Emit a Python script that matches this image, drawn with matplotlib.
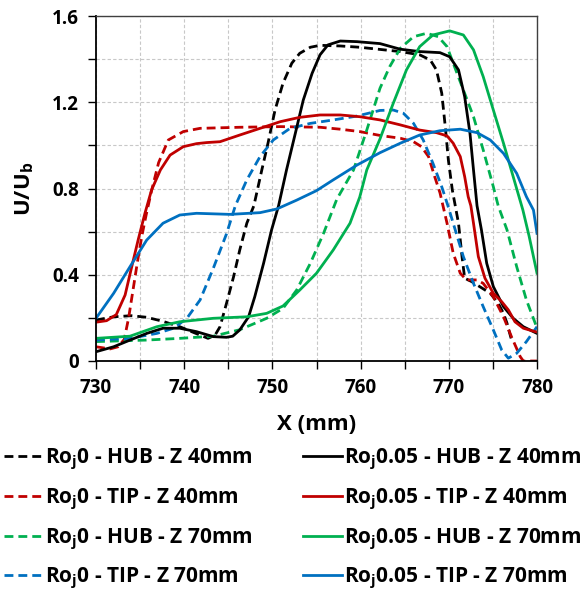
import matplotlib
matplotlib.use("Agg")
import matplotlib.pyplot as plt
from matplotlib.ticker import MultipleLocator

FAM = 'Open Sans'
plt.rcParams['font.family'] = [FAM, 'DejaVu Sans']
plt.rcParams['font.weight'] = 'bold'
plt.rcParams['mathtext.fontset'] = 'custom'
plt.rcParams['mathtext.rm'] = FAM + ':bold'
plt.rcParams['mathtext.bf'] = FAM + ':bold'
plt.rcParams['mathtext.it'] = FAM + ':bold'

# ---- data ----
x_hub40_r0 = [730, 732, 734, 735.7, 737.5, 739.5, 741.2, 742.7, 743.5, 744.06, 744.8, 745.6, 746.3,
              747.1, 747.9, 748.8, 749.5, 750.3, 751.2, 752.2, 753.1, 754.3, 755.4, 757.7, 759.9,
              762.2, 764.5, 766.7, 767.9, 768.6, 769.2, 769.6, 769.95, 770.4, 771.1, 771.5, 771.8,
              772.6, 773.5, 774.7, 775.6, 776.2, 776.6, 776.8, 777.1]
y_hub40_r0 = [0.19, 0.205, 0.21, 0.203, 0.185, 0.159, 0.13, 0.105, 0.12, 0.159, 0.268, 0.391, 0.515,
              0.639, 0.72, 0.886, 1.01, 1.164, 1.288, 1.381, 1.427, 1.455, 1.464, 1.461, 1.455,
              1.445, 1.435, 1.42, 1.396, 1.35, 1.242, 1.087, 0.932, 0.793, 0.639, 0.484, 0.384,
              0.368, 0.345, 0.314, 0.268, 0.221, 0.175, 0.144, 0.10]

x_hub40_r5 = [730, 732, 733.85, 735.75, 737.6, 739.5, 741.4, 743.3, 744.8, 745.5, 746.3, 747.3,
              748.0, 749.0, 749.9, 750.7, 751.6, 752.6, 753.5, 754.5, 755.4, 756.3, 757.7, 759.6,
              762.2, 764.5, 766.7, 769.0, 770.1, 771.1, 771.8, 772.4, 772.8, 773.2, 773.7, 774.3,
              775.05, 776.2, 777.3, 778.45, 780]
y_hub40_r5 = [0.043, 0.066, 0.097, 0.128, 0.152, 0.152, 0.136, 0.113, 0.11, 0.115, 0.144, 0.205,
              0.298, 0.453, 0.607, 0.72, 0.886, 1.056, 1.21, 1.334, 1.42, 1.466, 1.484, 1.481,
              1.472, 1.446, 1.435, 1.43, 1.411, 1.35, 1.226, 1.056, 0.886, 0.72, 0.608, 0.453,
              0.345, 0.252, 0.198, 0.159, 0.128]

x_tip40_r0 = [730, 731.6, 732.5, 733.2, 733.7, 734.2, 734.7, 735.2, 735.7, 736.3, 737.1, 738.2,
              739.9, 741.8, 746.3, 750.9, 755.4, 757.7, 759.9, 762.2, 764.5, 766.0, 766.9, 767.7,
              768.4, 769.0, 769.8, 770.5, 771.3, 772.0, 773.2, 773.9, 775.05, 776.2, 777.1, 778.1,
              778.45, 780]
y_tip40_r0 = [0.066, 0.056, 0.066, 0.1, 0.2, 0.33, 0.46, 0.58, 0.68, 0.79, 0.92, 1.025,
              1.064, 1.079, 1.084, 1.087, 1.084, 1.075, 1.064, 1.046, 1.033, 1.017, 0.994, 0.948,
              0.855, 0.78, 0.639, 0.5, 0.407, 0.376, 0.376, 0.36, 0.298, 0.205, 0.113, 0.02,
              0.0, 0.0]

x_tip40_r5 = [730, 731.2, 732.3, 733.3, 734.05, 734.8, 735.55, 736.3, 737.3, 738.4, 739.9, 741.4,
              742.55, 744.06, 746.3, 748.6, 750.9, 753.1, 755.4, 757.7, 759.9, 762.2, 764.5, 766.7,
              768.6, 769.8, 770.5, 771.3, 771.8, 772.2, 772.5, 772.8, 773.35, 774.1, 775.05, 776.0,
              776.75, 777.5, 778.45, 779.8, 780]
y_tip40_r5 = [0.18, 0.187, 0.215, 0.306, 0.437, 0.565, 0.685, 0.793, 0.886, 0.955, 0.994, 1.008,
              1.013, 1.017, 1.048, 1.079, 1.11, 1.13, 1.141, 1.141, 1.133, 1.118, 1.095, 1.071,
              1.059, 1.044, 1.01, 0.948, 0.855, 0.762, 0.72, 0.639, 0.484, 0.384, 0.314, 0.275,
              0.237, 0.182, 0.152, 0.136, 0.135]

x_hub70_r0 = [730, 735.7, 739.5, 743.3, 746.3, 749.35, 751.2, 752.75, 754.3, 755.8, 757.3, 759.2,
              760.7, 762.2, 763.3, 764.5, 766.0, 767.5, 768.8, 769.8, 770.5, 771.65, 772.8, 773.9,
              775.05, 775.6, 776.6, 777.7, 778.8, 779.8, 780]
y_hub70_r0 = [0.09, 0.097, 0.105, 0.115, 0.145, 0.198, 0.244, 0.329, 0.453, 0.592, 0.75, 0.886,
              1.071, 1.265, 1.365, 1.45, 1.504, 1.52, 1.504, 1.458, 1.381, 1.257, 1.133, 0.979,
              0.808, 0.72, 0.608, 0.437, 0.283, 0.175, 0.15]

x_hub70_r5 = [730, 733.85, 736.9, 739.5, 743.3, 747.1, 749.35, 751.2, 753.1, 755.0, 756.9, 758.8,
              759.9, 760.7, 762.2, 763.7, 765.2, 766.7, 768.2, 770.1, 771.65, 772.8, 773.9, 775.05,
              776.2, 777.3, 778.4, 779.1, 780]
y_hub70_r5 = [0.105, 0.115, 0.159, 0.182, 0.198, 0.205, 0.221, 0.255, 0.329, 0.407, 0.515, 0.639,
              0.76, 0.886, 1.03, 1.195, 1.35, 1.458, 1.512, 1.531, 1.512, 1.443, 1.319, 1.164,
              1.01, 0.855, 0.7, 0.58, 0.407]

x_tip70_r0 = [730, 733.85, 736.9, 738.8, 740.3, 741.8, 743.3, 744.8, 745.8, 747.1, 748.6, 750.1,
              752.0, 754.3, 756.9, 759.6, 762.2, 763.7, 764.85, 766.0, 767.1, 768.2, 769.2, 769.9,
              770.5, 771.65, 772.8, 773.9, 775.05, 776.0, 776.75, 777.7, 778.8, 780]
y_tip70_r0 = [0.097, 0.105, 0.128, 0.152, 0.198, 0.283, 0.43, 0.59, 0.72, 0.84, 0.948, 1.025,
              1.079, 1.102, 1.118, 1.136, 1.162, 1.164, 1.149, 1.102, 1.025, 0.917, 0.808, 0.72,
              0.639, 0.484, 0.36, 0.252, 0.144, 0.051, 0.013, 0.036, 0.09, 0.159]

x_tip70_r5 = [730, 732.0, 733.85, 735.75, 737.6, 739.5, 741.4, 745.2, 748.6, 750.5, 752.75, 755.0,
              756.9, 759.6, 762.2, 764.5, 766.7, 769.0, 771.3, 773.2, 774.7, 776.2, 777.7, 778.8,
              779.6, 780]
y_tip70_r5 = [0.198, 0.314, 0.437, 0.561, 0.639, 0.677, 0.685, 0.68, 0.688, 0.705, 0.746, 0.79,
              0.84, 0.909, 0.966, 1.01, 1.048, 1.068, 1.075, 1.059, 1.025, 0.963, 0.87, 0.762,
              0.70, 0.592]

labels = [r'Ro$_\mathbf{j}$0 - HUB - Z 40mm', r'Ro$_\mathbf{j}$0 - TIP - Z 40mm',
          r'Ro$_\mathbf{j}$0 - HUB - Z 70mm', r'Ro$_\mathbf{j}$0 - TIP - Z 70mm',
          r'Ro$_\mathbf{j}$0.05 - HUB - Z 40mm', r'Ro$_\mathbf{j}$0.05 - TIP - Z 40mm',
          r'Ro$_\mathbf{j}$0.05 - HUB - Z 70mm', r'Ro$_\mathbf{j}$0.05 - TIP - Z 70mm']

x_ticks = [730, 740, 750, 760, 770, 780]
y_ticks = [0, 0.4, 0.8, 1.2, 1.6]
y_tick_labels = ['0', '0.4', '0.8', '1.2', '1.6']

BLACK, RED, GREEN, BLUE = '#000000', '#C00000', '#00B050', '#0070C0'

fig = plt.figure(figsize=(5.85, 5.9), dpi=100)
ax = fig.add_axes([96/585, 1-361/590, 441/585, 345/590])

series = [
    (x_hub40_r0, y_hub40_r0, BLACK, '--'),
    (x_tip40_r0, y_tip40_r0, RED, '--'),
    (x_hub70_r0, y_hub70_r0, GREEN, '--'),
    (x_tip70_r0, y_tip70_r0, BLUE, '--'),
    (x_hub40_r5, y_hub40_r5, BLACK, '-'),
    (x_tip40_r5, y_tip40_r5, RED, '-'),
    (x_hub70_r5, y_hub70_r5, GREEN, '-'),
    (x_tip70_r5, y_tip70_r5, BLUE, '-'),
]
handles = []
for (xs, ys, c, ls), lab in zip(series, labels):
    kw = dict(color=c, lw=2.0, label=lab, solid_joinstyle='round')
    if ls == '--':
        kw['dashes'] = (3.2, 1.8)
    h, = ax.plot(xs, ys, **kw)
    handles.append(h)

ax.set_xlim(730, 780)
ax.set_ylim(0, 1.6)
ax.set_xticks(x_ticks)
ax.set_yticks(y_ticks)
ax.set_yticklabels(y_tick_labels)
ax.xaxis.set_minor_locator(MultipleLocator(5))
ax.yaxis.set_minor_locator(MultipleLocator(0.2))
ax.grid(True, which='both', color='#c8c8c8', linestyle=(0, (3, 2)), lw=0.8)
ax.set_axisbelow(True)
ax.tick_params(which='both', direction='out', length=6, width=1.0, color='black')
ax.tick_params(labelsize=13.5, pad=6)
for lab in ax.get_xticklabels() + ax.get_yticklabels():
    lab.set_fontweight('bold')
for s in ['left', 'bottom']:
    ax.spines[s].set_linewidth(1.3)
    ax.spines[s].set_color('black')
for s in ['top', 'right']:
    ax.spines[s].set_linewidth(1.0)
    ax.spines[s].set_color('#404040')

ax.set_xlabel('X (mm)', fontsize=16, fontweight='bold', labelpad=12)
ax.set_ylabel(r'U/U$_\mathbf{b}$', fontsize=16, fontweight='bold', labelpad=12)

leg = fig.legend(handles=handles, labels=labels, ncol=2, loc='upper left',
                 bbox_to_anchor=(0.0, 1 - 443/590), frameon=False,
                 prop={'size': 15, 'weight': 'bold'}, handlelength=1.85,
                 handletextpad=0.1, columnspacing=2.45, labelspacing=0.7,
                 borderaxespad=0, borderpad=0.2)

fig.savefig('out.png', dpi=100)
